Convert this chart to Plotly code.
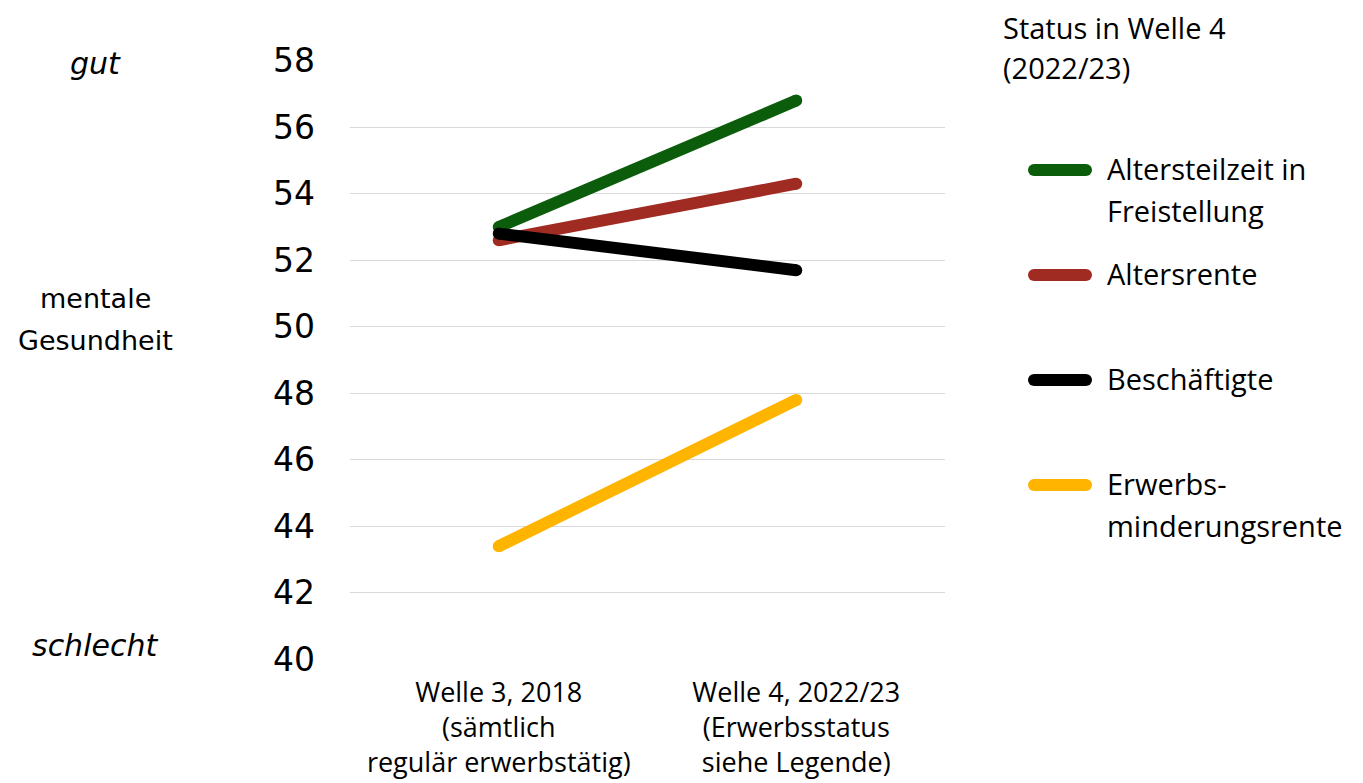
import plotly.graph_objects as go

categories = ["Welle 3, 2018<br>(sämtlich<br>regulär erwerbstätig)",
              "Welle 4, 2022/23<br>(Erwerbsstatus<br>siehe Legende)"]
series_names = ["Altersteilzeit in Freistellung", "Altersrente", "Beschäftigte", "Erwerbs-minderungsrente"]
legend_labels = ["Altersteilzeit in<br>Freistellung", "Altersrente", "Beschäftigte", "Erwerbs-<br>minderungsrente"]
legend_title = "Status in Welle 4<br>(2022/23)"
altersteilzeit = [53.0, 56.8]
altersrente = [52.6, 54.3]
beschaeftigte = [52.8, 51.7]
erwerbsminderung = [43.4, 47.8]
colors = ["#0b5d0b", "#a02b22", "#000000", "#ffb400"]
y_ticks = [40, 42, 44, 46, 48, 50, 52, 54, 56, 58]

OFF = 8  # page body margin
W, H = 1363 - OFF, 783 - OFF
L, T = 350 - OFF, 60 - OFF
PW, PH = 595, 600
R = W - L - PW
B = H - T - PH

fig = go.Figure()
values = [altersteilzeit, altersrente, beschaeftigte, erwerbsminderung]
for name, vals, col in zip(series_names, values, colors):
    fig.add_trace(go.Scatter(x=categories, y=vals, mode="lines+markers", name=name,
                             line=dict(color=col, width=12),
                             marker=dict(color=col, size=12, line=dict(width=0)),
                             showlegend=False, hoverinfo="skip"))

label_font = "Open Sans, Noto Sans, sans-serif"
fig.update_layout(
    width=W, height=H,
    margin=dict(l=L, r=R, t=T, b=B, autoexpand=False),
    plot_bgcolor="white", paper_bgcolor="white",
    showlegend=False,
    xaxis=dict(type="category", showgrid=False, zeroline=False, showline=False,
               automargin=False, ticks="", ticklabelstandoff=14,
               tickfont=dict(family=label_font, size=27, color="black"),
               range=[-0.5, 1.5]),
    yaxis=dict(range=[39.98, 58.02], tickvals=y_ticks, showgrid=True, gridcolor="#d9d9d9",
               gridwidth=1.3, zeroline=False, showline=False, ticks="",
               automargin=False, ticklabelstandoff=34,
               tickfont=dict(family="DejaVu Sans", size=33, color="black")),
)

def px(xp):
    return (xp - OFF - L) / PW
def py(yp):
    return (H - B - (yp - OFF)) / PH

def text_at(x, y, txt, font, xanchor="left"):
    fig.add_annotation(x=px(x), y=py(y), xref="paper", yref="paper", text=txt,
                       showarrow=False, font=font, xanchor=xanchor, yanchor="middle",
                       align=xanchor)

# Left side labels
left_font = dict(family="DejaVu Sans", size=30, color="black")
mid_font = dict(family="DejaVu Sans", size=27, color="black")
text_at(95, 63, "<i>gut</i>", left_font, "center")
text_at(95, 298, "mentale", mid_font, "center")
text_at(95, 340, "Gesundheit", mid_font, "center")
text_at(95, 645, "<i>schlecht</i>", left_font, "center")

# Legend (manual)
leg_font = dict(family=label_font, size=29, color="black")
for i, line in enumerate(legend_title.split("<br>")):
    text_at(1001, 27 + 40 * i, line, leg_font)
leg_y = [170, 275, 380, 485]
for lab, col, yy in zip(legend_labels, colors, leg_y):
    fig.add_shape(type="line", xref="paper", yref="paper",
                  x0=px(1034), x1=px(1086), y0=py(yy), y1=py(yy),
                  line=dict(color=col, width=12))
    for xx in (1034, 1086):
        fig.add_shape(type="circle", xref="paper", yref="paper",
                      x0=px(xx - 6), x1=px(xx + 6), y0=py(yy - 6), y1=py(yy + 6),
                      fillcolor=col, line=dict(width=0))
    for i, line in enumerate(lab.split("<br>")):
        text_at(1105, yy - 2 + 42 * i, line, leg_font)

fig.write_html("out.html")
